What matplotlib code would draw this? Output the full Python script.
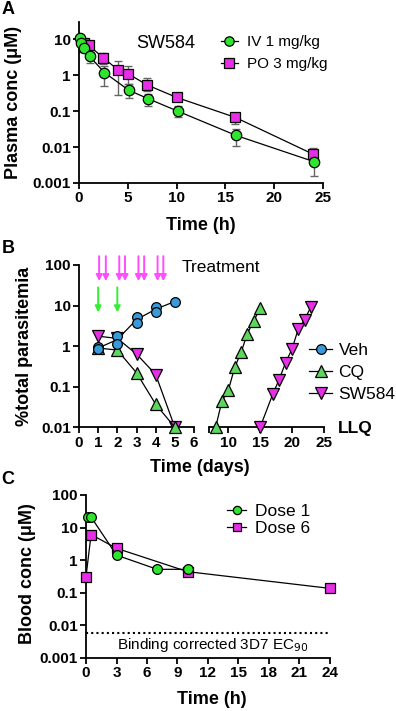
import numpy as np
import matplotlib
matplotlib.use('Agg')
import matplotlib.pyplot as plt
from matplotlib.ticker import NullLocator

plt.rcParams['font.family'] = ['Liberation Sans', 'DejaVu Sans']

# ---- panel A: plasma PK of SW584 ----
iv_t = [0.08, 0.25, 0.5, 1.1, 2.6, 5.1, 7.1, 10.1, 16.1, 24.1]
iv_c = [11.0, 8.0, 5.8, 3.3, 1.18, 0.38, 0.22, 0.10, 0.021, 0.0039]
iv_lo = [9.0, 4.5, 4.5, 2.2, 0.5, 0.23, 0.14, 0.067, 0.011, 0.0016]
iv_hi = [12.5, 10.0, 7.0, 4.3, 1.8, 0.55, 0.29, 0.14, 0.031, 0.006]

po_t = [0.5, 1.0, 2.5, 4.0, 5.0, 7.0, 10.0, 16.0, 24.0]
po_c = [8.0, 6.7, 3.0, 1.4, 1.1, 0.53, 0.24, 0.067, 0.0063]
po_lo = [6.5, 5.5, 2.0, 0.28, 0.55, 0.37, 0.19, 0.043, 0.0042]
po_hi = [9.5, 8.0, 4.2, 2.5, 1.8, 0.84, 0.29, 0.083, 0.0092]

# ---- panel B: parasitemia ----
veh_days = [1, 1, 2, 2, 3, 3, 4, 4, 5]
veh_pct = [0.96, 0.83, 1.76, 1.16, 5.2, 3.8, 9.4, 6.9, 12.6]

cq_days_1 = [1, 2, 3, 4, 5]
cq_pct_1 = [0.9, 0.8, 0.22, 0.037, 0.01]
cq_days_2 = [8, 9, 10, 11, 12, 13, 14, 15]
cq_pct_2 = [0.01, 0.045, 0.082, 0.3, 0.7, 2.05, 4.2, 8.5]

sw_days_1 = [1, 2, 3, 4, 5]
sw_pct_1 = [1.76, 1.55, 0.64, 0.2, 0.01]
sw_days_2 = [15, 17, 18, 19, 20, 21, 22, 23]
sw_pct_2 = [0.01, 0.066, 0.15, 0.39, 0.83, 2.6, 4.5, 9.3]

cq_dose_days = [1, 2]
sw_dose_days = [1.05, 1.4, 2.1, 2.4, 3.1, 3.4, 4.1, 4.4]

# ---- panel C: blood PK ----
d1_t = [0.15, 0.5, 3, 7, 10]
d1_c = [21, 21, 1.42, 0.52, 0.52]
d6_t = [0, 0.5, 3, 10, 24]
d6_c = [0.31, 6.1, 2.3, 0.44, 0.135]
ec90 = 0.0058

log_ticks_a = [0.001, 0.01, 0.1, 1, 10]
log_labels_a = ['0.001', '0.01', '0.1', '1', '10']
log_ticks_b = [0.01, 0.1, 1, 10, 100]
log_labels_b = ['0.01', '0.1', '1', '10', '100']
log_ticks_c = [0.001, 0.01, 0.1, 1, 10, 100]
log_labels_c = ['0.001', '0.01', '0.1', '1', '10', '100']

GREEN = '#2ee62e'
MAGENTA = '#e62ee6'
BLUE = '#3a9ad9'
CQ_GREEN = '#5cd65c'
TICK_FS = 11
LAB_FS = 13

W, H = 396, 711
fig = plt.figure(figsize=(W / 100, H / 100), dpi=100)


def rect(x0, y0, x1, y1):
    # pixel box (top-left origin) -> figure fraction
    return [x0 / W, 1 - y1 / H, (x1 - x0) / W, (y1 - y0) / H]


def style(ax, left=True):
    for s in ['top', 'right']:
        ax.spines[s].set_visible(False)
    ax.spines['bottom'].set_linewidth(1.3)
    ax.spines['left'].set_linewidth(1.3)
    if not left:
        ax.spines['left'].set_visible(False)
    ax.tick_params(direction='out', length=4, width=1.3, labelsize=TICK_FS, pad=2)


# ================= A =================
axA = fig.add_axes(rect(79, 22, 323, 183))
style(axA)
axA.set_yscale('log')
axA.errorbar(iv_t, iv_c, yerr=[np.subtract(iv_c, iv_lo), np.subtract(iv_hi, iv_c)],
             fmt='none', ecolor='#666666', elinewidth=1, capsize=3, capthick=1, zorder=2)
axA.errorbar(po_t, po_c, yerr=[np.subtract(po_c, po_lo), np.subtract(po_hi, po_c)],
             fmt='none', ecolor='#666666', elinewidth=1, capsize=3, capthick=1, zorder=2)
h_po, = axA.plot(po_t, po_c, '-s', color='black', lw=0.9, mfc=MAGENTA, mec='black',
                 mew=0.9, ms=7.5, zorder=3, clip_on=False)
h_iv, = axA.plot(iv_t, iv_c, '-o', color='black', lw=0.9, mfc=GREEN, mec='black',
                 mew=0.9, ms=7.5, zorder=4, clip_on=False)
axA.set_xlim(0, 25)
axA.set_ylim(0.001, 30)
axA.set_xticks([0, 5, 10, 15, 20, 25], labels=['0', '5', '10', '15', '20', '25'],
               fontweight='bold')
axA.set_yticks(log_ticks_a, labels=log_labels_a, fontweight='bold')
axA.yaxis.set_minor_locator(NullLocator())
axA.text(136 / W, 1 - 44 / H, 'SW584', transform=fig.transFigure, fontsize=13,
         va='center', ha='left')
axA.legend([h_iv, h_po], ['IV 1 mg/kg', 'PO 3 mg/kg'], loc='upper left',
           bbox_to_anchor=(221 / W, 1 - 35 / H), bbox_transform=fig.transFigure,
           frameon=False, fontsize=11, handlelength=1.1, handletextpad=0.6,
           labelspacing=0.55, borderpad=0, borderaxespad=0, markerscale=0.9)
fig.text(14 / W, 1 - 102 / H, 'Plasma conc (\u03bcM)', rotation=90, ha='center',
         va='center', fontsize=LAB_FS, fontweight='bold')
fig.text(201 / W, 1 - 226 / H, 'Time (h)', ha='center', va='center',
         fontsize=LAB_FS, fontweight='bold')
fig.text(8 / W, 1 - 10 / H, 'A', ha='center', va='center', fontsize=13,
         fontweight='bold')

# ================= B =================
axB1 = fig.add_axes(rect(79, 265, 194, 427.3))
axB2 = fig.add_axes(rect(209.3, 265, 323.6, 427.3))
style(axB1)
style(axB2, left=False)
for ax in (axB1, axB2):
    ax.set_yscale('log')
    ax.set_ylim(0.01, 100)
    ax.yaxis.set_minor_locator(NullLocator())
axB1.set_xlim(0, 6)
axB2.set_xlim(7, 25)
axB1.set_xticks(range(7), labels=[str(d) for d in range(7)], fontweight='bold')
axB2.set_xticks([7, 10, 15, 20, 25], labels=['', '10', '15', '20', '25'],
                fontweight='bold')
axB1.set_yticks(log_ticks_b, labels=log_labels_b, fontweight='bold')
axB2.set_yticks([])

mk_b = dict(color='black', lw=0.9, mec='black', mew=0.9, clip_on=False)
h_sw, = axB1.plot(sw_days_1, sw_pct_1, '-v', mfc=MAGENTA, ms=8, zorder=3, **mk_b)
axB2.plot(sw_days_2, sw_pct_2, '-v', mfc=MAGENTA, ms=8, zorder=3, **mk_b)
h_cq, = axB1.plot(cq_days_1, cq_pct_1, '-^', mfc=CQ_GREEN, ms=8, zorder=4, **mk_b)
axB2.plot(cq_days_2, cq_pct_2, '-^', mfc=CQ_GREEN, ms=8, zorder=4, **mk_b)
vd = np.array(veh_days)
vp = np.array(veh_pct)
udays = np.unique(vd)
vmean = [vp[vd == d].mean() for d in udays]
axB1.plot(udays, vmean, '-', color='black', lw=0.9, zorder=5)
axB1.plot(vd, vp, 'o', mfc=BLUE, mec='black', mew=0.9, ms=7, zorder=6, clip_on=False)
h_veh, = axB1.plot([], [], '-o', color='black', lw=0.9, mfc=BLUE, mec='black',
                   mew=0.9, ms=7)

for d in sw_dose_days:
    axB1.annotate('', xy=(d, 40), xytext=(d, 165), annotation_clip=False,
                  arrowprops=dict(arrowstyle='-|>', color='#ff4dff', lw=1.4,
                                  mutation_scale=9, shrinkA=0, shrinkB=0))
for d in cq_dose_days:
    axB1.annotate('', xy=(d, 6.8), xytext=(d, 28), annotation_clip=False,
                  arrowprops=dict(arrowstyle='-|>', color='#33ee33', lw=1.4,
                                  mutation_scale=9, shrinkA=0, shrinkB=0))
fig.text(182 / W, 1 - 267 / H, 'Treatment', ha='left', va='center', fontsize=12.5)
fig.text(338 / W, 1 - 428 / H, 'LLQ', ha='left', va='center', fontsize=12.5,
         fontweight='bold')
axB2.legend([h_veh, h_cq, h_sw], ['Veh', 'CQ', 'SW584'], loc='upper left',
            bbox_to_anchor=(309 / W, 1 - 343 / H), bbox_transform=fig.transFigure,
            frameon=False, fontsize=12.5, handlelength=1.35, handletextpad=0.35,
            labelspacing=0.4, borderpad=0, borderaxespad=0)
fig.text(25 / W, 1 - 346 / H, '%total parasitemia', rotation=90, ha='center',
         va='center', fontsize=LAB_FS, fontweight='bold')
fig.text(200 / W, 1 - 468 / H, 'Time (days)', ha='center', va='center',
         fontsize=LAB_FS, fontweight='bold')
fig.text(8 / W, 1 - 249 / H, 'B', ha='center', va='center', fontsize=13,
         fontweight='bold')

# ================= C =================
axC = fig.add_axes(rect(86, 495, 330, 657.7))
style(axC)
axC.set_yscale('log')
axC.set_xlim(0, 24)
axC.set_ylim(0.001, 100)
axC.set_xticks(range(0, 25, 3), labels=[str(t) for t in range(0, 25, 3)],
               fontweight='bold')
axC.set_yticks(log_ticks_c, labels=log_labels_c, fontweight='bold')
axC.yaxis.set_minor_locator(NullLocator())
h_d6, = axC.plot(d6_t, d6_c, '-s', color='black', lw=0.9, mfc=MAGENTA, mec='black',
                 mew=0.9, ms=6.5, zorder=3, clip_on=False)
h_d1, = axC.plot(d1_t, d1_c, '-o', color='black', lw=0.9, mfc=GREEN, mec='black',
                 mew=0.9, ms=7, zorder=4, clip_on=False)
axC.axhline(ec90, color='black', lw=1.5, ls=(0, (1, 1.5)))
axC.text(213 / W, 1 - 645 / H, 'Binding corrected 3D7 EC$_{90}$',
         transform=fig.transFigure, ha='center', va='center', fontsize=11)
axC.legend([h_d1, h_d6], ['Dose 1', 'Dose 6'], loc='upper left',
           bbox_to_anchor=(227 / W, 1 - 504 / H), bbox_transform=fig.transFigure,
           frameon=False, fontsize=12.5, handlelength=1.1, handletextpad=0.5,
           labelspacing=0.1, borderpad=0, borderaxespad=0, markerscale=0.85)
fig.text(28 / W, 1 - 574 / H, 'Blood conc (\u03bcM)', rotation=90, ha='center',
         va='center', fontsize=LAB_FS, fontweight='bold')
fig.text(212 / W, 1 - 699 / H, 'Time (h)', ha='center', va='center',
         fontsize=LAB_FS, fontweight='bold')
fig.text(8 / W, 1 - 479 / H, 'C', ha='center', va='center', fontsize=13,
         fontweight='bold')

fig.savefig('out.png', dpi=100)
